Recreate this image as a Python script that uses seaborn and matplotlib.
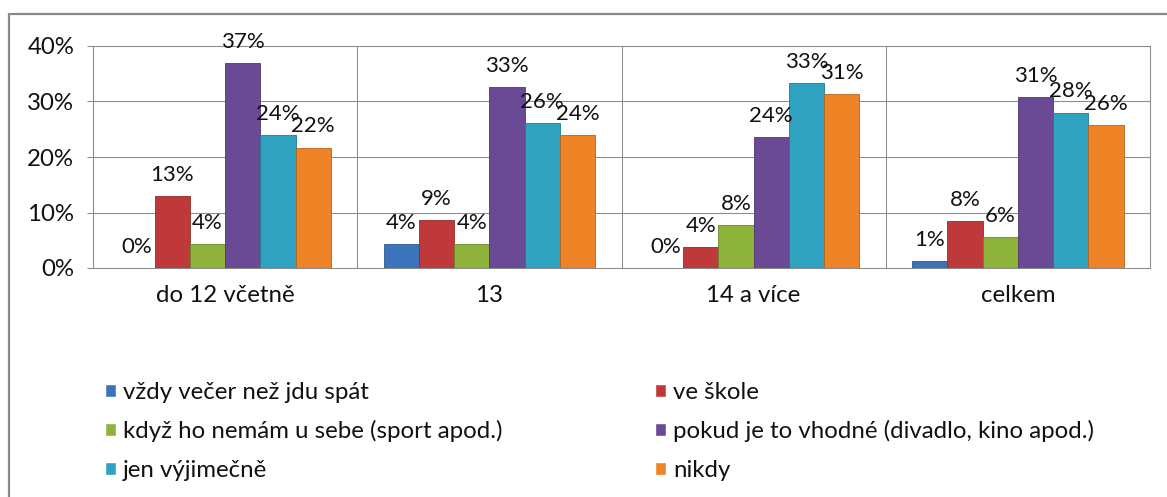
import pandas as pd
import matplotlib
matplotlib.use("Agg")
import matplotlib.pyplot as plt
import matplotlib.colors as mcolors
from matplotlib.patches import Rectangle
import seaborn as sns

# data (percent)
categories = ["do 12 včetně", "13", "14 a více", "celkem"]
series = ["vždy večer než jdu spát", "ve škole",
          "když ho nemám u sebe (sport apod.)",
          "pokud je to vhodné (divadlo, kino apod.)",
          "jen výjimečně", "nikdy"]
vzdy_vecer = [0.0, 4.3, 0.0, 1.2]
ve_skole = [13.0, 8.7, 3.8, 8.4]
kdyz_nemam = [4.3, 4.3, 7.7, 5.6]
pokud_vhodne = [37.0, 32.6, 23.6, 30.8]
jen_vyjimecne = [23.9, 26.1, 33.3, 28.0]
nikdy = [21.7, 23.9, 31.4, 25.8]
yticks = [0, 10, 20, 30, 40]

colors = ["#3C74BC", "#C0393A", "#8DB33A", "#6A4A94", "#2FA2C0", "#EE8425"]

rows = []
for name, vals in zip(series, [vzdy_vecer, ve_skole, kdyz_nemam,
                               pokud_vhodne, jen_vyjimecne, nikdy]):
    for cat, v in zip(categories, vals):
        rows.append({"kategorie": cat, "odpoved": name, "podil": v})
df = pd.DataFrame(rows)

sns.set_style("white")
plt.rcParams["font.family"] = ["Lato", "DejaVu Sans"]
fs = 17.3

fig = plt.figure(figsize=(11.67, 4.97), dpi=100)
ax = fig.add_axes([93 / 1167, 1 - 268 / 497, (1150 - 93) / 1167, (268 - 46) / 497])

sns.barplot(data=df, x="kategorie", y="podil", hue="odpoved",
            order=categories, hue_order=series, palette=colors,
            width=0.8, saturation=1, ax=ax, legend=True)

gray = "#8c8c8c"
for cont, c in zip(ax.containers, colors):
    dark = tuple(x * 0.75 for x in mcolors.to_rgb(c))
    for bar in cont:
        bar.set_edgecolor(dark)
        bar.set_linewidth(0.6)
    ax.bar_label(cont, labels=[f"{b.get_height():.0f}%" for b in cont],
                 padding=8, fontsize=16, color="#111111")

ax.set_xlim(-0.5, len(categories) - 0.5)
ax.set_ylim(0, 40)
ax.set_yticks(yticks)
ax.set_yticklabels([f"{t}%" for t in yticks])
ax.set_xlabel("")
ax.set_ylabel("")

# group separators as minor ticks
ax.set_xticks([i - 0.5 for i in range(len(categories) + 1)], minor=True)
ax.tick_params(axis="x", which="major", length=0, pad=12, labelsize=fs,
               labelcolor="#111111")
ax.tick_params(axis="x", which="minor", length=8, width=0.75, color=gray, direction="out")
ax.tick_params(axis="y", length=4.5, width=0.75, color=gray, pad=9,
               labelsize=fs, labelcolor="#111111", direction="out", left=True)
ax.grid(axis="y", which="major", color=gray, linewidth=0.75)
ax.grid(axis="x", which="minor", color=gray, linewidth=0.75)
ax.set_axisbelow(True)
for sp in ax.spines.values():
    sp.set_color(gray)
    sp.set_linewidth(0.75)

# legend in two columns, row order like the original
handles, labels = ax.get_legend_handles_labels()
ax.get_legend().remove()
leg_kw = dict(frameon=False, fontsize=fs, handlelength=0.45, handleheight=0.45,
              handletextpad=0.3, labelspacing=0.72, borderpad=0, borderaxespad=0,
              loc="upper left", labelcolor="#111111")
fig.legend([handles[i] for i in (0, 2, 4)], [labels[i] for i in (0, 2, 4)],
           bbox_to_anchor=(105 / 1167, 1 - 382 / 497), **leg_kw)
fig.legend([handles[i] for i in (1, 3, 5)], [labels[i] for i in (1, 3, 5)],
           bbox_to_anchor=(655 / 1167, 1 - 382 / 497), **leg_kw)

# outer chart frame
fig.patches.append(Rectangle((9 / 1167, -0.2), 1.2, 1.2 - 14 / 497,
                             transform=fig.transFigure, fill=False,
                             edgecolor="#8a8a8a", linewidth=1.6))

fig.savefig("out.png", dpi=100)
